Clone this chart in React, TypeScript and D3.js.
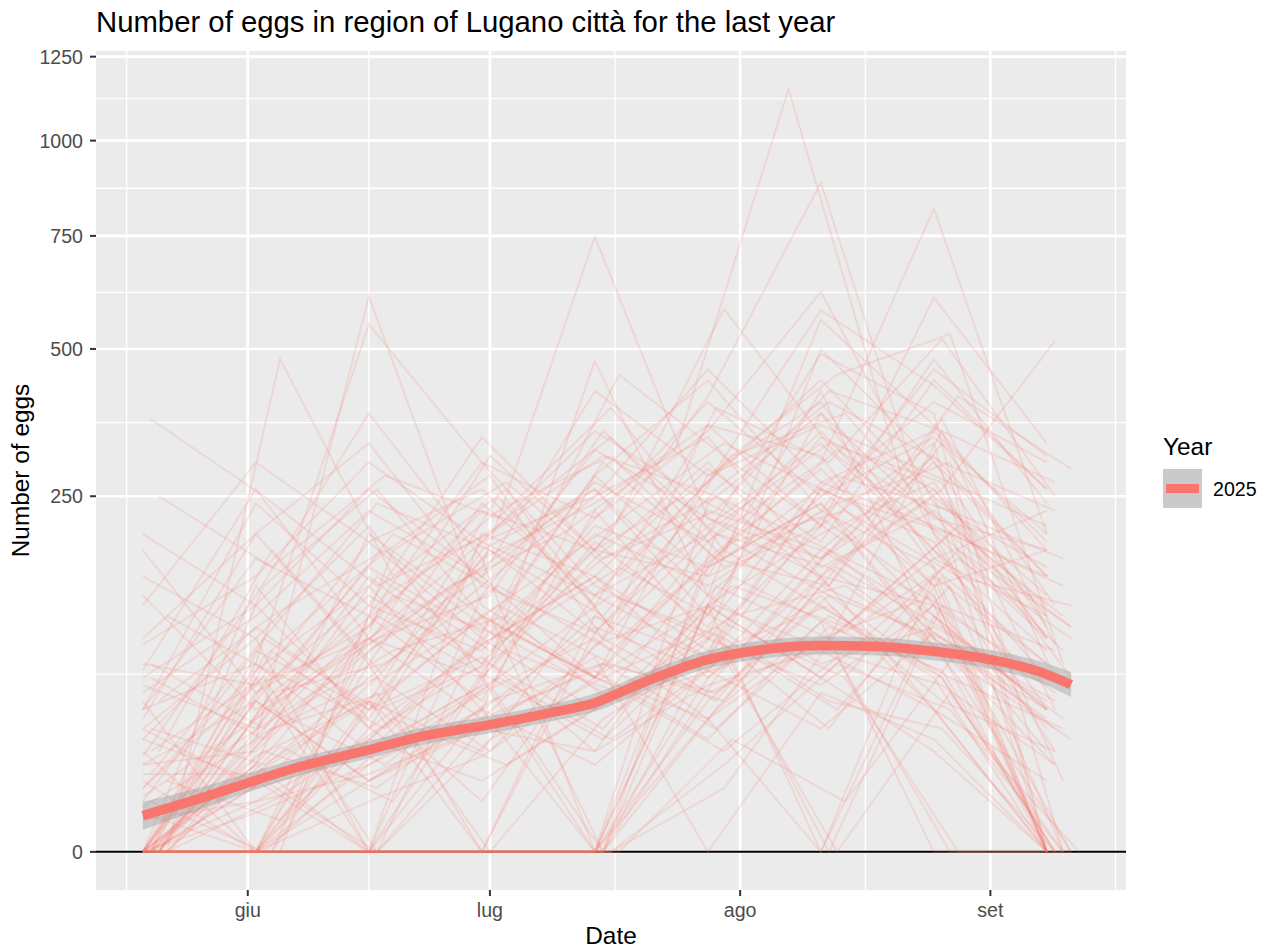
import React, { useEffect, useRef } from 'react';
import * as d3 from 'd3';

// sampling rounds (every two weeks), each trap is read a few days around them
const roundDates = [
  '2025-05-19', '2025-06-02', '2025-06-16', '2025-06-30', '2025-07-14',
  '2025-07-28', '2025-08-11', '2025-08-25', '2025-09-08',
];

// day offset of each trap from the round date
const trapShift = [
  0, 0, 0, 0, 0, 1, 3, 1, 0, 0,
  0, 0, 2, -4, 0, 0, 0, 0, 0, 2,
  1, 0, 0, 1, 0, 2, 0, 0, 1, 0,
  0, 3, 0, 0, 0, 1, 0, 0, 2, 0,
  0, 1, 0, 0, 2, 0, 0, 1, 0, 0,
  3, 0, 0, 1, 0, 0, 2, 0, 0, 1,
  0, 2, 0, 1, 0, 2, 4, 3,
  0, 1, 2, 0, 3, 1, 0, 2, 1, 0,
  0, 1, 0, 2, 3, 0, 1, 0, 2, 0,
  1, 3, 0, 0, 2, 1, 0, 3, 0, 1,
  2, 0, 1, 3, 0, 2, 0, 1, 3, 0,
];

// eggs counted per trap and round (null = not read)
const trapEggs: (number | null)[][] = [
  [0, 35, 120, 80, 210, 160, 340, 260, 90],
  [12, 12, 60, 140, 95, 230, 180, 310, 150],
  [0, 0, 45, 20, 130, 75, 260, 190, 40],
  [150, 90, 210, 60, 170, 300, 150, 120, 0],
  [0, 140, 30, 180, 260, 110, 380, 220, 180],
  [20, 60, 0, 110, 0, 140, 90, 350, 60],
  [0, 480, 150, 260, 90, 190, 230, 150, 120],
  [370, 250, 140, 200, 310, 250, 180, 90, 30],
  [4, 25, 610, 120, 60, 280, 400, 170, 230],
  [0, 70, 550, 300, 140, 90, 210, 330, 0],
  [130, 40, 90, 160, 748, 220, 170, 260, 110],
  [30, 8, 20, 55, 476, 130, 250, 400, 300],
  [45, 110, 180, 90, 200, 583, 310, 190, 80],
  [null, 20, 60, 140, 200, 320, 1150, 280, 60],
  [0, 50, 100, 230, 180, 410, 885, 200, 90],
  [55, 30, 150, 70, 220, 350, 620, 240, 160],
  [60, 120, 35, 190, 130, 270, 580, 430, 260],
  [0, 0, 80, 150, 60, 190, 300, 818, 200],
  [8, 65, 140, 40, 280, 150, 210, 607, 330],
  [20, 180, 60, 250, 100, 300, 450, 530, 70],
  [null, 40, 90, 130, 350, 200, 160, 260, 516],
  [0, 15, 0, 60, 0, 120, 0, 150, 0],
  [90, 200, 330, 140, 250, 460, 270, 350, 190],
  [0, 0, 0, 35, 70, 50, 130, 90, 45],
  [25, 100, 40, 170, 0, 240, 380, 160, 0],
  [250, 160, 280, 220, 390, 180, 320, 210, 110],
  [70, 55, 190, 260, 120, 360, 210, 480, 240],
  [10, 0, 110, 45, 230, 90, 500, 300, 150],
  [0, 140, 260, 100, 300, 170, 140, 370, 85],
  [2, 5, 25, 90, 40, 160, 240, 110, 20],
  [40, 240, 120, 340, 180, 270, 440, 250, 130],
  [110, 60, 200, 130, 450, 300, 190, 410, 290],
  [0, 0, 70, 0, 95, 210, 330, 180, 60],
  [30, 90, 0, 200, 150, 80, 260, 140, 0],
  [15, 20, 85, 160, 260, 130, 560, 360, 180],
  [0, 75, 170, 280, 90, 390, 300, 520, 250],
  [85, 150, 300, 190, 350, 240, 170, 300, 100],
  [180, 50, 130, 70, 180, 150, 420, 90, 40],
  [0, 30, 50, 120, 210, 330, 250, 200, 140],
  [0, 0, 10, 40, 0, 60, 150, 40, 0],
  [50, 110, 230, 150, 420, 280, 360, 280, 210],
  [60, 25, 95, 310, 170, 250, 140, 330, 120],
  [0, 45, 160, 95, 280, 440, 230, 160, 70],
  [35, 200, 70, 240, 130, 200, 490, 380, 0],
  [0, 0, 130, 210, 340, 170, 280, 230, 170],
  [5, 80, 40, 110, 60, 120, 200, 270, 90],
  [18, 130, 380, 170, 240, 360, 310, 120, 60],
  [0, 10, 60, 180, 110, 260, 400, 300, 230],
  [120, 300, 190, 90, 200, 140, 230, 460, 310],
  [0, 60, 0, 130, 320, 220, 150, 250, 0],
  [null, 0, 180, 270, 150, 310, 380, 190, 100],
  [6, 35, 90, 60, 190, 100, 270, 210, 150],
  [40, 170, 110, 300, 220, 400, 250, 340, 200],
  [0, 90, 240, 180, 90, 210, 330, 270, 40],
  [45, 0, 30, 85, 150, 290, 190, 440, 260],
  [200, 120, 260, 150, 270, 190, 350, 180, 80],
  [0, 50, 120, 230, 310, 160, 240, 300, 0],
  [0, 15, 200, 110, 60, 170, 290, 140, 180],
  [65, 260, 90, 190, 250, 340, 160, 230, 120],
  [70, 30, 150, 80, 170, 230, 420, 350, 270],
  [0, 0, 0, 0, 0, null, null, null, null],
  [0, 0, 0, 0, 0, null, null, null, null],
  [0, 0, 0, 0, 0, null, null, null, null],
  [0, 0, 0, 0, 0, null, null, null, null],
  [0, 0, 0, 0, 0, null, null, null, null],
  [0, 0, 0, 0, 0, null, null, null, null],
  [null, null, null, null, null, null, null, 30, 0],
  [null, null, null, null, null, null, 60, 0, 0],
  [0, 0, 0, 0, 0, 45, 120, 60, 0],
  [0, 0, 0, 0, 0, 90, 30, 150, 20],
  [0, 0, 0, 0, 0, 15, 70, 40, 0],
  [0, 0, 0, 0, 0, 160, 240, 90, 35],
  [0, 0, 0, 0, 0, 25, 5, 80, 0],
  [0, 0, 0, 0, 0, 60, 180, 120, 50],
  [0, 0, 0, 0, 0, 120, 60, 20, 0],
  [0, 0, 0, 0, 0, 8, 95, 200, 10],
  [0, 0, 0, 0, 0, 200, 130, 60, 0],
  [0, 0, 0, 0, 0, 35, 0, 110, 40],
  [0, 5, 12, 30, 20, 55, 80, 40, 10],
  [0, 20, 8, 45, 70, 30, 100, 65, 0],
  [3, 0, 25, 10, 40, 90, 55, 120, 30],
  [0, 40, 15, 60, 25, 75, 0, 50, 0],
  [10, 2, 35, 80, 50, 110, 140, 70, 25],
  [0, 0, 5, 18, 60, 35, 90, 130, 0],
  [0, 28, 60, 20, 90, 45, 160, 80, 15],
  [25, 10, 0, 40, 15, 65, 30, 95, 45],
  [0, 65, 30, 100, 55, 20, 75, 0, 0],
  [0, 12, 45, 5, 85, 120, 60, 150, 70],
  [5, 0, 20, 55, 0, 40, 110, 60, 0],
  [0, 35, 80, 110, 40, 150, 95, 170, 90],
  [15, 45, 10, 30, 75, 0, 50, 25, 0],
  [0, 3, 15, 40, 100, 65, 180, 110, 40],
  [0, 80, 25, 60, 130, 90, 40, 140, 0],
  [30, 15, 50, 0, 35, 80, 120, 45, 20],
  [0, 0, 40, 75, 20, 130, 70, 100, 55],
  [0, 22, 5, 90, 45, 70, 200, 60, 0],
  [8, 55, 90, 35, 110, 50, 85, 170, 110],
  [0, 10, 0, 25, 60, 100, 45, 30, 0],
  [0, 50, 70, 140, 80, 180, 110, 60, 30],
  [20, 0, 15, 50, 90, 35, 140, 90, 0],
  [0, 30, 110, 60, 25, 95, 0, 120, 80],
  [0, 6, 35, 15, 50, 140, 100, 210, 60],
  [40, 70, 20, 85, 150, 60, 130, 40, 0],
  [0, 0, 60, 120, 70, 45, 160, 95, 35],
  [0, 18, 45, 0, 110, 75, 220, 130, 0],
  [12, 90, 40, 70, 30, 120, 80, 55, 15],
  [0, 25, 130, 90, 160, 100, 60, 180, 100],
  [0, 45, 10, 35, 65, 25, 105, 0, 0],
];

// loess fit (with confidence band)
const smoothDates = [
  '2025-05-19', '2025-05-26', '2025-06-01', '2025-06-07', '2025-06-16', '2025-06-23',
  '2025-07-01', '2025-07-08', '2025-07-14', '2025-07-20', '2025-07-28', '2025-08-03',
  '2025-08-11', '2025-08-18', '2025-08-24', '2025-09-01', '2025-09-07', '2025-09-11',
];
const smoothFit = [2.6, 5.6, 9.4, 14.0, 20.6, 26.7, 32.0, 37.8, 44.0, 56.7, 73.1, 80.2, 84.2, 83.4, 80.2, 73.1, 64.3, 55.3];
const smoothLow = [0.96, 3.5, 7.02, 11.16, 17.34, 22.92, 27.86, 33.27, 38.89, 50.79, 66.46, 73.14, 77.0, 76.21, 73.14, 66.1, 57.0, 47.36];
const smoothHigh = [4.96, 8.13, 12.22, 17.16, 24.23, 30.76, 36.43, 42.59, 49.53, 62.87, 80.17, 87.5, 91.72, 90.86, 87.5, 80.57, 72.01, 63.94];

const yTicks = [0, 250, 500, 750, 1000, 1250];
const monthTicks = ['2025-06-01', '2025-07-01', '2025-08-01', '2025-09-01'];
const monthLabels = ['giu', 'lug', 'ago', 'set'];
const legendYears = ['2025'];

const FONT = '"Liberation Sans", Arial, sans-serif';
const RED = '#F8766D';

export default function App() {
  const svgRef = useRef<SVGSVGElement>(null);
  const width = 1270;
  const height = 951;

  useEffect(() => {
    if (!svgRef.current) return;
    const svg = d3.select(svgRef.current);
    svg.selectAll('*').remove();

    const parse = d3.timeParse('%Y-%m-%d');
    const panel = { left: 96, right: 1126, top: 51, bottom: 890 };

    type Pt = { date: Date; value: number };
    const series: Pt[][] = trapEggs.map((row, i) => {
      const pts: Pt[] = [];
      row.forEach((v, r) => {
        if (v == null) return;
        pts.push({ date: d3.timeDay.offset(parse(roundDates[r])!, trapShift[i]), value: v });
      });
      return pts;
    });
    const allPts = series.flat();

    const [d0, d1] = d3.extent(allPts, d => d.date) as [Date, Date];
    const pad = (d1.getTime() - d0.getTime()) * 0.05;
    const x = d3.scaleTime()
      .domain([new Date(d0.getTime() - pad), new Date(d1.getTime() + pad)])
      .range([panel.left, panel.right]);

    // sqrt transformed axis, expanded 5% in transformed space
    const sMax = Math.sqrt(d3.max(allPts, d => d.value) || 1);
    const sPad = sMax * 0.05;
    const ys = d3.scaleLinear().domain([-sPad, sMax + sPad]).range([panel.bottom, panel.top]);
    const y = (v: number) => ys(Math.sqrt(v));

    // panel
    svg.append('rect')
      .attr('x', panel.left).attr('y', panel.top)
      .attr('width', panel.right - panel.left).attr('height', panel.bottom - panel.top)
      .attr('fill', '#EBEBEB');

    // minor grid
    const sTicks = yTicks.map(Math.sqrt);
    const yMinor: number[] = [];
    for (let i = 0; i < sTicks.length - 1; i++) yMinor.push((sTicks[i] + sTicks[i + 1]) / 2);
    const mt = monthTicks.map(d => parse(d)!.getTime());
    const xMinor: number[] = [mt[0] - (mt[1] - mt[0]) / 2];
    for (let i = 0; i < mt.length - 1; i++) xMinor.push((mt[i] + mt[i + 1]) / 2);
    xMinor.push(mt[mt.length - 1] + (mt[mt.length - 1] - mt[mt.length - 2]) / 2);

    const grid = svg.append('g').attr('stroke', '#FFFFFF');
    yMinor.forEach(s => {
      grid.append('line').attr('x1', panel.left).attr('x2', panel.right)
        .attr('y1', ys(s)).attr('y2', ys(s)).attr('stroke-width', 1.3);
    });
    xMinor.forEach(t => {
      const px = x(new Date(t));
      if (px < panel.left || px > panel.right) return;
      grid.append('line').attr('x1', px).attr('x2', px)
        .attr('y1', panel.top).attr('y2', panel.bottom).attr('stroke-width', 1.3);
    });
    yTicks.forEach(v => {
      grid.append('line').attr('x1', panel.left).attr('x2', panel.right)
        .attr('y1', y(v)).attr('y2', y(v)).attr('stroke-width', 2.6);
    });
    mt.forEach(t => {
      grid.append('line').attr('x1', x(new Date(t))).attr('x2', x(new Date(t)))
        .attr('y1', panel.top).attr('y2', panel.bottom).attr('stroke-width', 2.6);
    });

    // zero line
    svg.append('line')
      .attr('x1', panel.left).attr('x2', panel.right)
      .attr('y1', y(0)).attr('y2', y(0))
      .attr('stroke', '#000000').attr('stroke-width', 2);

    // traps
    const line = d3.line<Pt>().x(d => x(d.date)).y(d => y(d.value));
    svg.append('g')
      .selectAll('path')
      .data(series)
      .enter()
      .append('path')
      .attr('d', d => line(d))
      .attr('fill', 'none')
      .attr('stroke', RED)
      .attr('stroke-opacity', 0.17)
      .attr('stroke-width', 2);

    // smooth
    const sm = smoothDates.map((d, i) => ({
      date: parse(d)!, fit: smoothFit[i], lo: smoothLow[i], hi: smoothHigh[i],
    }));
    const area = d3.area<typeof sm[number]>()
      .x(d => x(d.date)).y0(d => y(d.lo)).y1(d => y(d.hi))
      .curve(d3.curveMonotoneX);
    svg.append('path').datum(sm)
      .attr('d', area)
      .attr('fill', '#999999').attr('fill-opacity', 0.4);
    const fitLine = d3.line<typeof sm[number]>()
      .x(d => x(d.date)).y(d => y(d.fit))
      .curve(d3.curveMonotoneX);
    svg.append('path').datum(sm)
      .attr('d', fitLine)
      .attr('fill', 'none').attr('stroke', RED).attr('stroke-width', 9.5);

    // axes
    const axis = svg.append('g').attr('font-family', FONT);
    yTicks.forEach(v => {
      axis.append('line').attr('x1', panel.left - 6).attr('x2', panel.left)
        .attr('y1', y(v)).attr('y2', y(v)).attr('stroke', '#333333').attr('stroke-width', 2);
      axis.append('text').attr('x', 83).attr('y', y(v)).attr('dy', '0.36em')
        .attr('text-anchor', 'end').attr('font-size', 19.6).attr('fill', '#4D4D4D')
        .text(String(v));
    });
    mt.forEach((t, i) => {
      const px = x(new Date(t));
      axis.append('line').attr('x1', px).attr('x2', px)
        .attr('y1', panel.bottom).attr('y2', panel.bottom + 6)
        .attr('stroke', '#333333').attr('stroke-width', 2);
      axis.append('text').attr('x', px).attr('y', 917)
        .attr('text-anchor', 'middle').attr('font-size', 19.6).attr('fill', '#4D4D4D')
        .text(monthLabels[i]);
    });

    // titles
    svg.append('text').attr('x', (panel.left + panel.right) / 2).attr('y', 944)
      .attr('text-anchor', 'middle').attr('font-family', FONT).attr('font-size', 24.4)
      .text('Date');
    svg.append('text')
      .attr('transform', `translate(29,${(panel.top + panel.bottom) / 2}) rotate(-90)`)
      .attr('text-anchor', 'middle').attr('font-family', FONT).attr('font-size', 24.4)
      .text('Number of eggs');
    svg.append('text').attr('x', panel.left).attr('y', 32)
      .attr('font-family', FONT).attr('font-size', 29.3)
      .text('Number of eggs in region of Lugano città for the last year');

    // legend
    const lg = svg.append('g').attr('font-family', FONT);
    lg.append('text').attr('x', 1163).attr('y', 455).attr('font-size', 24.4).text('Year');
    legendYears.forEach((yr, i) => {
      const top = 469 + i * 39;
      lg.append('rect').attr('x', 1163).attr('y', top).attr('width', 39).attr('height', 39)
        .attr('fill', '#EBEBEB');
      lg.append('rect').attr('x', 1163).attr('y', top).attr('width', 39).attr('height', 39)
        .attr('fill', '#999999').attr('fill-opacity', 0.4);
      lg.append('line').attr('x1', 1166).attr('x2', 1199)
        .attr('y1', top + 19.5).attr('y2', top + 19.5)
        .attr('stroke', RED).attr('stroke-width', 9);
      lg.append('text').attr('x', 1213).attr('y', top + 27).attr('font-size', 19.6).text(yr);
    });
  }, []);

  return (
    <div style={{ position: 'absolute', left: 0, top: 0 }}>
      <svg ref={svgRef} width={width} height={height} style={{ display: 'block', background: '#FFFFFF' }} />
    </div>
  );
}
